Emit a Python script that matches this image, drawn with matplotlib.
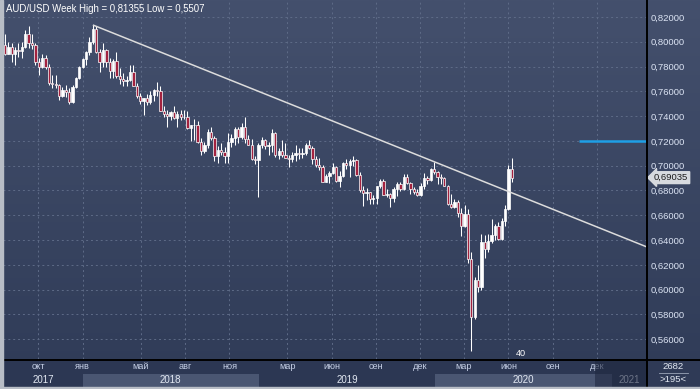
import numpy as np
import pandas as pd
import matplotlib
matplotlib.use("Agg")
import matplotlib.pyplot as plt
import matplotlib.dates as mdates
import matplotlib.transforms as mtransforms
from matplotlib.colors import LinearSegmentedColormap
from matplotlib.lines import Line2D
from matplotlib.patches import Rectangle

plt.rcParams['font.family'] = ['Liberation Sans', 'DejaVu Sans']

# weekly AUD/USD candles, first week starts 2017-07-24
first_week = "2017-07-24"
opens = [
    .7975, .7905, .7960, .7905, .7935, .7925, .7960, .8065, .7990, .7970,
    .7835, .7800, .7870, .7800, .7665, .7660, .7650, .7565, .7610, .7595,
    .7510, .7635, .7710, .7800, .7860, .7920, .7995, .8100, .7915, .7835,
    .7935, .7840, .7765, .7845, .7720, .7700, .7680, .7690, .7755, .7645,
    .7560, .7525, .7545, .7510, .7570, .7610, .7600, .7445, .7420, .7400,
    .7430, .7385, .7420, .7395, .7390, .7305, .7325, .7330, .7190, .7115,
    .7170, .7270, .7225, .7080, .7130, .7110, .7075, .7190, .7225, .7300,
    .7230, .7315, .7215, .7170, .7050, .7045, .7170, .7205, .7160, .7170,
    .7260, .7090, .7115, .7090, .7065, .7050, .7090, .7100, .7095, .7105,
    .7170, .7140, .7055, .7005, .6990, .6870, .6920, .6940, .6990, .6875,
    .6920, .7020, .7005, .7040, .7045, .6925, .6800, .6780, .6785, .6735,
    .6740, .6835, .6875, .6765, .6770, .6740, .6810, .6855, .6810, .6905,
    .6860, .6815, .6790, .6765, .6835, .6900, .6885, .6975, .6945, .6905,
    .6900, .6840, .6690, .6665, .6710, .6615, .6510, .6610, .6245, .5780,
    .6080, .6020, .6385, .6330, .6390, .6440, .6515, .6410, .6550, .6650,
    .6970,
]
highs = [
    .8065, .8000, .7990, .7960, .7990, .8000, .8095, .8125, .8060, .7990,
    .7870, .7900, .7895, .7820, .7730, .7730, .7660, .7635, .7650, .7630,
    .7655, .7715, .7805, .7870, .7925, .8040, .81355, .8130, .7940, .7990,
    .7945, .7865, .7860, .7915, .7790, .7750, .7720, .7810, .7810, .7665,
    .7585, .7550, .7575, .7600, .7620, .7675, .7640, .7485, .7450, .7440,
    .7480, .7440, .7450, .7450, .7440, .7330, .7380, .7360, .7225, .7195,
    .7295, .7315, .7240, .7155, .7180, .7150, .7260, .7255, .7315, .7310,
    .7345, .7395, .7245, .7215, .7075, .7180, .7235, .7215, .7190, .7295,
    .7270, .7140, .7205, .7185, .7085, .7110, .7170, .7145, .7145, .7180,
    .7205, .7155, .7075, .7065, .7005, .6935, .6955, .7020, .6995, .6960,
    .7030, .7050, .7050, .7080, .7050, .6950, .6835, .6820, .6790, .6760,
    .6840, .6895, .6895, .6810, .6780, .6825, .6865, .6870, .6930, .6930,
    .6865, .6830, .6815, .6860, .6940, .6920, .6985, .7032, .6955, .6935,
    .6910, .6845, .6775, .6735, .6725, .6655, .6685, .6650, .6300, .6105,
    .6195, .6445, .6440, .6445, .6570, .6530, .6545, .6580, .6685, .7005,
    .7064,
]
lows = [
    .7895, .7900, .7835, .7810, .7880, .7870, .7950, .7950, .7945, .7810,
    .7735, .7790, .7780, .7650, .7625, .7630, .7530, .7555, .7555, .7500,
    .7505, .7625, .7700, .7790, .7810, .7890, .7980, .7910, .7760, .7800,
    .7800, .7710, .7710, .7710, .7660, .7645, .7640, .7680, .7640, .7545,
    .7500, .7410, .7490, .7500, .7520, .7560, .7440, .7395, .7310, .7365,
    .7380, .7310, .7365, .7375, .7300, .7200, .7205, .7180, .7085, .7100,
    .7140, .7210, .7040, .7020, .7085, .7020, .7020, .7150, .7165, .7185,
    .7215, .7185, .7165, .7045, .7015, .6745, .7145, .7135, .7085, .7110,
    .7070, .7055, .7070, .7060, .6990, .7030, .7040, .7050, .7060, .7085,
    .7135, .7015, .6990, .6965, .6865, .6865, .6860, .6935, .6865, .6830,
    .6910, .6970, .6910, .7000, .6920, .6790, .6675, .6720, .6690, .6690,
    .6690, .6820, .6760, .6750, .6670, .6710, .6755, .6795, .6800, .6855,
    .6775, .6770, .6755, .6755, .6815, .6855, .6880, .6935, .6850, .6850,
    .6835, .6685, .6660, .6660, .6585, .6435, .6505, .6215, .5507, .5760,
    .5980, .6000, .6255, .6305, .6380, .6400, .6400, .6400, .6510, .6640,
    .6865,
]
closes = [
    .7905, .7960, .7905, .7935, .7925, .7960, .8065, .7990, .7970, .7835,
    .7800, .7870, .7800, .7665, .7660, .7650, .7565, .7610, .7595, .7510,
    .7635, .7710, .7800, .7860, .7920, .7995, .8100, .7915, .7835, .7935,
    .7840, .7765, .7845, .7720, .7700, .7680, .7690, .7755, .7645, .7560,
    .7525, .7545, .7510, .7570, .7610, .7600, .7445, .7420, .7400, .7430,
    .7385, .7420, .7395, .7390, .7305, .7325, .7330, .7190, .7115, .7170,
    .7270, .7225, .7080, .7130, .7110, .7075, .7190, .7225, .7300, .7230,
    .7315, .7215, .7170, .7050, .7045, .7170, .7205, .7160, .7170, .7260,
    .7090, .7115, .7090, .7065, .7050, .7090, .7100, .7095, .7105, .7170,
    .7140, .7055, .7005, .6990, .6870, .6920, .6940, .6990, .6875, .6920,
    .7020, .7005, .7040, .7045, .6925, .6800, .6780, .6785, .6735, .6740,
    .6835, .6875, .6765, .6770, .6740, .6810, .6855, .6810, .6905, .6860,
    .6815, .6790, .6765, .6835, .6900, .6885, .6975, .6945, .6905, .6900,
    .6840, .6690, .6665, .6710, .6615, .6510, .6610, .6245, .5780, .6080,
    .6020, .6385, .6330, .6390, .6440, .6515, .6410, .6550, .6650, .6970,
    .69035,
]

month_ticks = ["2017-10-01", "2018-01-01", "2018-05-01", "2018-08-01", "2018-11-01",
               "2019-03-01", "2019-06-01", "2019-09-01", "2019-12-01", "2020-03-01",
               "2020-06-01", "2020-09-01", "2020-12-01"]
month_labels = ["окт", "янв", "май", "авг", "ноя", "мар", "июн", "сен", "дек",
                "мар", "июн", "сен", "дек"]
year_starts = ["2017-01-01", "2018-01-01", "2019-01-01", "2020-01-01", "2021-01-01", "2022-01-01"]
year_labels = ["2017", "2018", "2019", "2020", "2021"]
price_ticks = [0.56, 0.58, 0.60, 0.62, 0.64, 0.66, 0.68, 0.70, 0.72, 0.74, 0.76, 0.78, 0.80, 0.82]

title = "AUD/USD Week High = 0,81355 Low = 0,5507"
last_price = 0.69035
level_price = 0.72
level_start = "2020-10-26"
future_start = "2020-11-28"
trend_from, trend_to = 26, 127   # the two weekly highs the trendline runs through

W, H = 700, 389


def box(x0, y0, x1, y1):
    return [x0 / W, 1 - y1 / H, (x1 - x0) / W, (y1 - y0) / H]


fig = plt.figure(figsize=(7, 3.89), dpi=100)

# background gradient
bg = fig.add_axes([0, 0, 1, 1], zorder=0)
cmap = LinearSegmentedColormap.from_list("bg", ["#44506d", "#2f3b57"])
bg.imshow(np.linspace(0, 1, 256).reshape(-1, 1), aspect="auto", cmap=cmap,
          extent=[0, 1, 0, 1], origin="upper")
bg.set_axis_off()

o = np.array(opens)
h = np.array(highs)
l = np.array(lows)
c = np.array(closes)
x = mdates.date2num(pd.date_range(first_week, periods=len(c), freq="7D"))
left = x[0] - 4.1
right = left + 1334

ax = fig.add_axes(box(3, 0, 647, 359), zorder=1)
ax.set_facecolor("none")
ax.set_xlim(left, right)
ax.set_ylim(0.544, 0.8337)

months = mdates.date2num(pd.to_datetime(month_ticks))
ax.set_xticks(months)
ax.set_yticks(price_ticks)
ax.set_yticklabels([f"{p:.5f}".replace(".", ",") for p in price_ticks])
ax.yaxis.tick_right()
ax.tick_params(axis="x", length=0, labelbottom=False)
ax.tick_params(axis="y", length=0, pad=2.5, labelsize=6.8, labelcolor="#dce4f4")
ax.grid(True, color="#5e6b87", ls=(0, (2, 3)), lw=0.7)
ax.set_axisbelow(True)
for s in ax.spines.values():
    s.set_visible(False)

# candles
up = c >= o
ax.vlines(x, l, h, color="white", lw=0.75, zorder=3)
ax.bar(x, np.maximum(np.abs(c - o), 0.0005), width=4.8, bottom=np.minimum(o, c),
       color=np.where(up, "white", "#a3223f"), edgecolor="white", linewidth=0.5, zorder=4)

# trendline through the two highs
slope = (h[trend_to] - h[trend_from]) / (x[trend_to] - x[trend_from])
ax.plot([x[trend_from], right], [h[trend_from], h[trend_from] + slope * (right - x[trend_from])],
        color="#dcdcdc", lw=1.1, zorder=5, solid_capstyle="butt")

# level line
ax.hlines(level_price, mdates.date2num(pd.Timestamp(level_start)), right,
          color="#1e9fe6", lw=1.8, zorder=5)

ax.text(0.004, 0.988, title, transform=ax.transAxes, ha="left", va="top",
        color="white", fontsize=6.9)
ax.text((521 - 3) / 644, (359 - 353) / 359, "40", transform=ax.transAxes,
        ha="center", va="center", color="white", fontsize=6.6)

trans = mtransforms.blended_transform_factory(ax.transAxes, ax.transData)
ax.text(1 + 7 / 644, last_price, f"{last_price:.5f}".replace(".", ","), transform=trans,
        ha="left", va="center", color="#1c1c1c", fontsize=6.8, clip_on=False, zorder=6,
        bbox=dict(boxstyle="larrow,pad=0.15", fc="#d7dadf", ec="#d7dadf"))

# time axis panel
bax = fig.add_axes(box(3, 360, 647, 387), zorder=1)
bax.set_facecolor("#2c3753")
bax.set_xlim(left, right)
bax.set_ylim(0, 1)
bax.set_xticks([])
bax.set_yticks([])
for s in bax.spines.values():
    s.set_visible(False)
ys = mdates.date2num(pd.to_datetime(year_starts))
for i in (1, 3):
    bax.axvspan(ys[i], ys[i + 1], ymin=0, ymax=0.5, color="#4a5672", lw=0)
for m, lab in zip(months, month_labels):
    bax.text(m, 0.76, lab, ha="center", va="center", fontsize=6.6, color="#c6d0e6")
for i, lab in enumerate(year_labels):
    mid = (max(ys[i], left) + min(ys[i + 1], right)) / 2
    bax.text(mid, 0.26, lab, ha="center", va="center", fontsize=7, color="#e2e8f2")
bax.axvspan(mdates.date2num(pd.Timestamp(future_start)), right, color="#1f2840",
            alpha=0.6, lw=0, zorder=5)

# corner box
rax = fig.add_axes(box(647, 360, 700, 387), zorder=1)
rax.set_facecolor("#2f3a56")
rax.set_xticks([])
rax.set_yticks([])
for s in rax.spines.values():
    s.set_visible(False)
rax.text(0.5, 0.76, "2682", ha="center", va="center", fontsize=6.8, color="#e2e8f2")
rax.plot([0.22, 0.78], [0.52, 0.52], color="#9aa4b8", lw=0.6)
rax.text(0.5, 0.26, ">195<", ha="center", va="center", fontsize=6.8, color="#e2e8f2")
rax.set_xlim(0, 1)
rax.set_ylim(0, 1)

# frame lines and borders
fig.add_artist(Line2D([647 / W, 647 / W], [2 / H, 1], color="black", lw=1.4, transform=fig.transFigure, zorder=10))
fig.add_artist(Line2D([3 / W, 1], [1 - 359.5 / H, 1 - 359.5 / H], color="black", lw=1.4, transform=fig.transFigure, zorder=10))
fig.add_artist(Rectangle((0, 0), 3 / W, 1, transform=fig.transFigure, color="#b8bdc6", zorder=10))
fig.add_artist(Rectangle((0, 0), 1, 2 / H, transform=fig.transFigure, color="#b8bdc6", zorder=10))

fig.savefig("out.png", dpi=100)
